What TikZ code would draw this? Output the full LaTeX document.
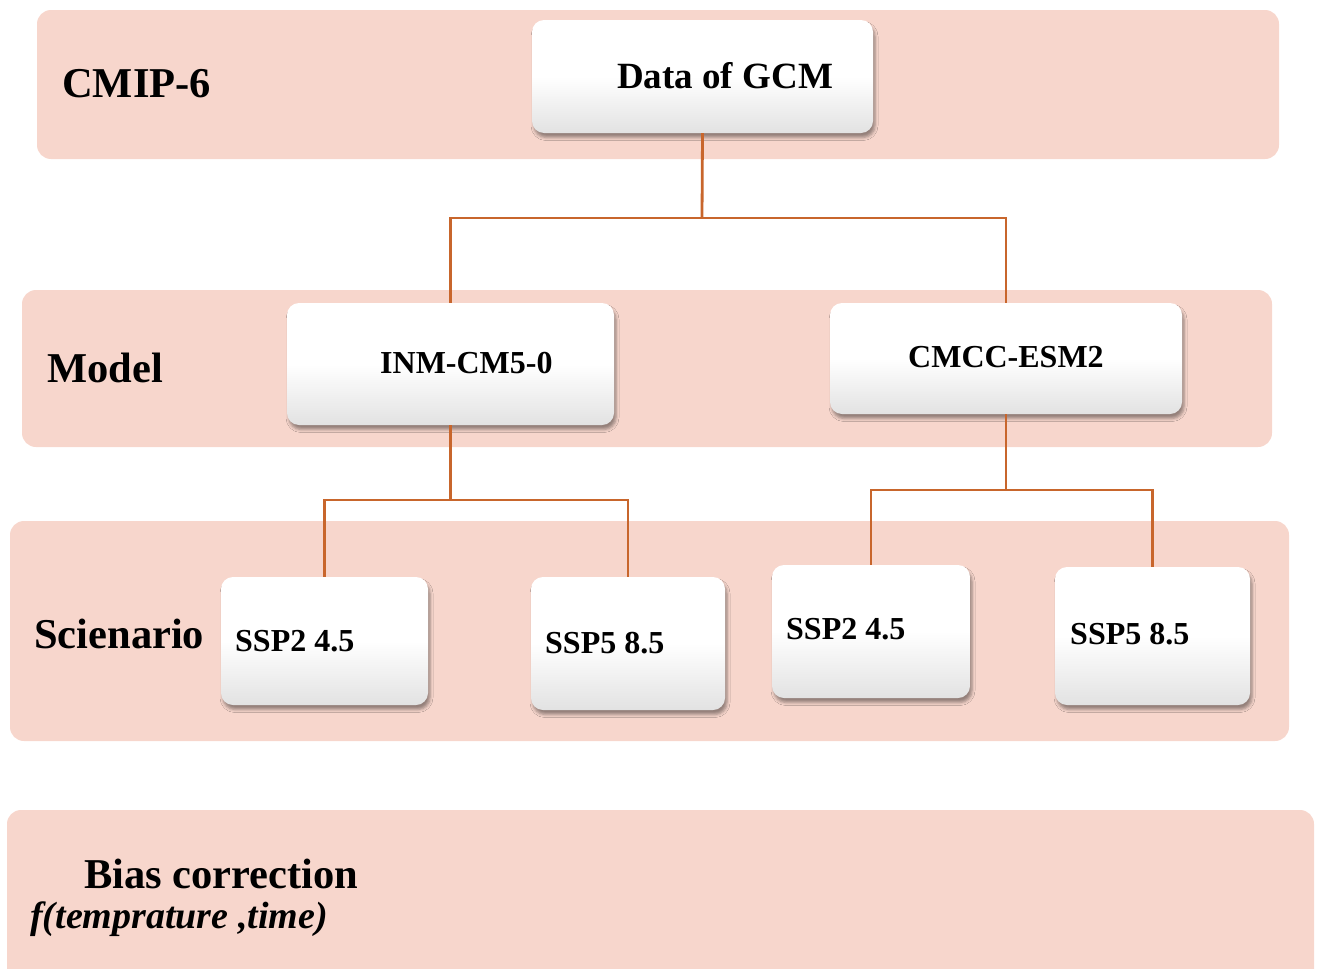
\documentclass[tikz,border=0pt]{standalone}
\usepackage{fontspec}
\setmainfont{Liberation Serif}
\usetikzlibrary{shadows.blur,calc}

\definecolor{bandfill}{HTML}{F7D6CC}
\definecolor{linkcol}{HTML}{C8662C}
\definecolor{boxbottom}{HTML}{E2E2E2}

\tikzset{
  band/.style={fill=bandfill, rounded corners=14pt},
  box/.style={rounded corners=12pt, top color=white, bottom color=boxbottom,
    middle color=white, draw=none, inner sep=0pt,
    blur shadow={shadow xshift=2pt, shadow yshift=-4.5pt,
      shadow blur radius=3pt, shadow opacity=40}},
  conn/.style={draw=linkcol, line width=2.8pt},
  bandtitle/.style={font=\bfseries\fontsize{42.5}{50}\selectfont, anchor=base west, inner sep=0pt},
  subtitle/.style={font=\bfseries\itshape\fontsize{38}{45}\selectfont, anchor=base west, inner sep=0pt},
  boxtext/.style={font=\bfseries\fontsize{32}{38}\selectfont, anchor=base west, inner sep=0pt},
  bigboxtext/.style={font=\bfseries\fontsize{37}{43}\selectfont, anchor=base west, inner sep=0pt},
}

\begin{document}
\begin{tikzpicture}[x=1pt, y=-1pt]
  \useasboundingbox (0,0) rectangle (1318,969);
  \clip (0,0) rectangle (1318,969);

  % level bands
  \fill[band] (37,10) rectangle (1279,159);
  \fill[band] (22,290) rectangle (1272,447);
  \fill[band] (10,521) rectangle (1289,741);
  \fill[band] (7,810) rectangle (1314,1000);

  % band titles
  \node[bandtitle] (tcmip) at (62,97) {CMIP-6};
  \node[bandtitle] (tmodel) at (47,382) {Model};
  \node[bandtitle] (tscen) at (34,648) {Scienario};
  \node[bandtitle] (tbias) at (84,888) {Bias correction};
  \node[subtitle] (tfunc) at (30,928) {f(temprature ,time)};

  % junction points of the tree
  \coordinate (j1) at (702,218);
  \coordinate (j2) at (450.5,500);
  \coordinate (j3) at (1006,490);

  % boxes
  \node[box, minimum width=341pt, minimum height=113pt] (gcm) at (702.5,76.5) {};
  \node[box, minimum width=327pt, minimum height=122pt] (inm) at (450.5,364) {};
  \node[box, minimum width=352pt, minimum height=111pt] (cmcc) at (1006,358.5) {};
  \node[box, minimum width=207pt, minimum height=128pt] (ssp2a) at (324.5,641) {};
  \node[box, minimum width=194pt, minimum height=133pt] (ssp5a) at (628,643.5) {};
  \node[box, minimum width=198pt, minimum height=133pt] (ssp2b) at (871,631.5) {};
  \node[box, minimum width=195pt, minimum height=138pt] (ssp5b) at (1152.5,636) {};

  % connectors
  \draw[conn] (gcm.south) -- (j1);
  \draw[conn] (inm.north) |- (j1) -| (cmcc.north);
  \draw[conn] (inm.south) -- (j2);
  \draw[conn] (ssp2a.north) |- (j2) -| (ssp5a.north);
  \draw[conn] (cmcc.south) -- (j3);
  \draw[conn] (ssp2b.north) |- (j3) -| (ssp5b.north);

  % box texts
  \node[bigboxtext] (lgcm) at (617,88) {Data of GCM};
  \node[boxtext] (linm) at (380,373) {INM-CM5-0};
  \node[boxtext] (lcmcc) at (908,367) {CMCC-ESM2};
  \node[boxtext] (l2a) at (235,651) {SSP2 4.5};
  \node[boxtext] (l5a) at (545,653) {SSP5 8.5};
  \node[boxtext] (l2b) at (786,639) {SSP2 4.5};
  \node[boxtext] (l5b) at (1070,644) {SSP5 8.5};
\end{tikzpicture}
\end{document}
